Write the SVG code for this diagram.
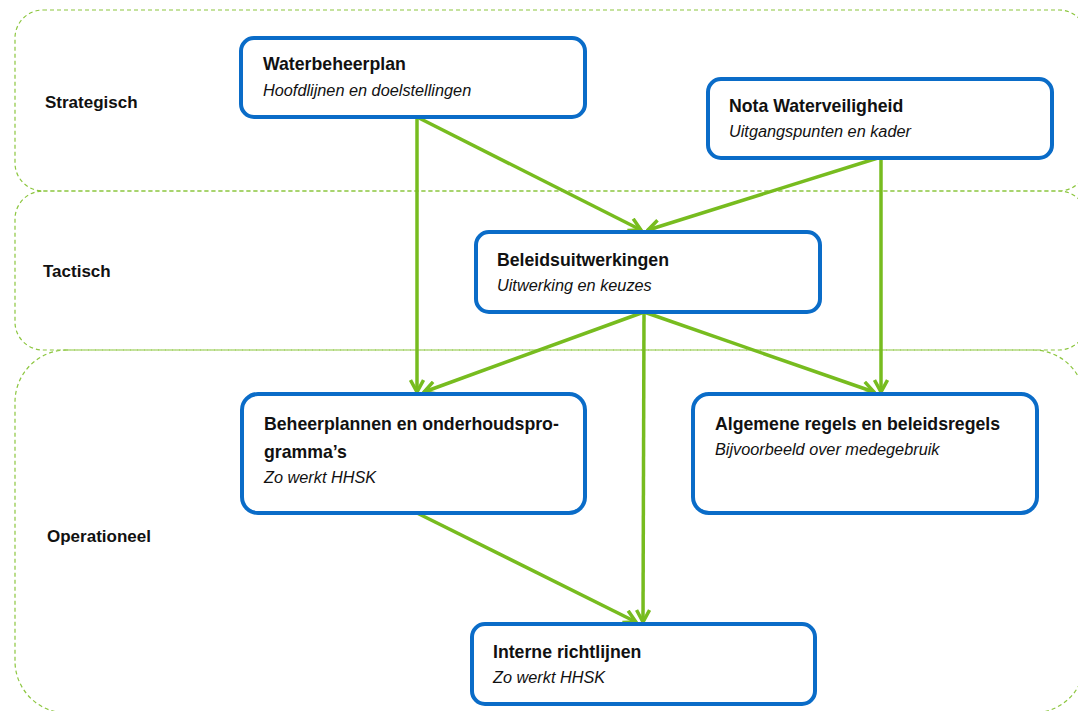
<svg xmlns="http://www.w3.org/2000/svg" width="1078" height="711" viewBox="0 0 1078 711">
<style>
.band{fill:none;stroke:#8cc63f;stroke-width:1.2;stroke-dasharray:4 3}
.lbl{font-family:"Liberation Sans",Arial,sans-serif;font-weight:bold;font-size:17px;fill:#111}
.box{fill:#fff;stroke:#0a6cc8;stroke-width:4}
.t{font-family:"Liberation Sans",Arial,sans-serif;font-weight:bold;font-size:17.7px;fill:#111}
.s{font-family:"Liberation Sans",Arial,sans-serif;font-style:italic;font-size:16.3px;fill:#111}
.c{fill:none;stroke:#77bc1f;stroke-width:3.5;marker-end:url(#arr)}
</style>
<defs>
<marker id="arr" viewBox="0 0 16 16" refX="14" refY="8" markerWidth="16" markerHeight="16" markerUnits="userSpaceOnUse" orient="auto">
<path d="M2,1.5 L14,8 L2,14.5" fill="none" stroke="#77bc1f" stroke-width="3.5"/>
</marker>
</defs>
<rect width="1078" height="711" fill="#fff"/>
<g id="bands">
<rect class="band" x="15" y="10" width="1072" height="181" rx="28"/>
<rect class="band" x="15" y="191" width="1072" height="159" rx="28"/>
<rect class="band" x="15" y="350" width="1070" height="363" rx="52"/>
<text class="lbl" x="45" y="108">Strategisch</text>
<text class="lbl" x="43" y="277">Tactisch</text>
<text class="lbl" x="47" y="542">Operationeel</text>
</g>
<g id="connectors">
<line class="c" x1="417" y1="117" x2="417" y2="392"/>
<line class="c" x1="417" y1="117" x2="641" y2="230"/>
<line class="c" x1="881" y1="157" x2="648" y2="230"/>
<line class="c" x1="881" y1="157" x2="881" y2="392"/>
<line class="c" x1="644" y1="312" x2="424" y2="392"/>
<line class="c" x1="644" y1="312" x2="874" y2="392"/>
<line class="c" x1="644" y1="312" x2="643" y2="622"/>
<line class="c" x1="417" y1="513" x2="636" y2="622"/>
</g>
<g id="waterbeheerplan">
<rect class="box" x="241" y="38" width="344" height="79" rx="13"/>
<text class="t" x="263" y="70">Waterbeheerplan</text>
<text class="s" x="263" y="96">Hoofdlijnen en doelstellingen</text>
</g>
<g id="nota">
<rect class="box" x="708" y="79" width="344" height="79" rx="13"/>
<text class="t" x="729" y="112">Nota Waterveiligheid</text>
<text class="s" x="729" y="137">Uitgangspunten en kader</text>
</g>
<g id="beleidsuitwerkingen">
<rect class="box" x="476" y="232" width="344" height="80" rx="13"/>
<text class="t" x="497" y="266">Beleidsuitwerkingen</text>
<text class="s" x="497" y="291">Uitwerking en keuzes</text>
</g>
<g id="beheerplannen">
<rect class="box" x="242" y="394" width="343" height="119" rx="16"/>
<text class="t" x="264" y="430">Beheerplannen en onderhoudspro-</text>
<text class="t" x="264" y="458">gramma’s</text>
<text class="s" x="264" y="483">Zo werkt HHSK</text>
</g>
<g id="algemene">
<rect class="box" x="693" y="394" width="344" height="119" rx="16"/>
<text class="t" x="715" y="430">Algemene regels en beleidsregels</text>
<text class="s" x="715" y="455">Bijvoorbeeld over medegebruik</text>
</g>
<g id="interne">
<rect class="box" x="472" y="624" width="343" height="80" rx="13"/>
<text class="t" x="493" y="658">Interne richtlijnen</text>
<text class="s" x="493" y="683">Zo werkt HHSK</text>
</g>
</svg>
